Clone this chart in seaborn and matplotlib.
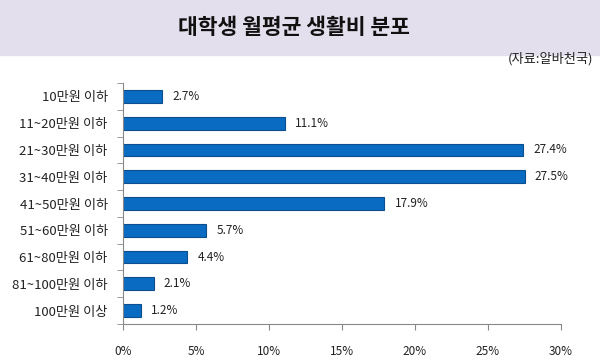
import pandas as pd
import matplotlib.pyplot as plt
import seaborn as sns
from matplotlib.patches import Rectangle

sns.set_style('white')
plt.rcParams['font.family'] = ['Noto Sans CJK KR', 'DejaVu Sans']

# data
categories = ['10만원 이하', '11~20만원 이하', '21~30만원 이하', '31~40만원 이하',
              '41~50만원 이하', '51~60만원 이하', '61~80만원 이하', '81~100만원 이하',
              '100만원 이상']
shares = [2.7, 11.1, 27.4, 27.5, 17.9, 5.7, 4.4, 2.1, 1.2]
xticks = [0, 5, 10, 15, 20, 25, 30]

df = pd.DataFrame({'구간': categories, '비율': shares})

fig = plt.figure(figsize=(6, 3.62), dpi=100)
# title band
fig.patches.append(Rectangle((0, 1 - 55 / 362), 1, 55 / 362, transform=fig.transFigure,
                             color='#E4DFEC', zorder=0))
fig.text(0.49, 1 - 28 / 362, '대학생 월평균 생활비 분포', ha='center', va='center',
         fontsize=15.5, fontweight='bold', color='#111111')
fig.text(0.988, 1 - 59 / 362, '(자료:알바천국)', ha='right', va='center',
         fontsize=9.5, color='#222222')

ax = fig.add_axes([123 / 600, 38 / 362, 438 / 600, 241 / 362])
sns.barplot(data=df, x='비율', y='구간', orient='h', color='#0A6BC2',
            edgecolor='#0B4F8E', linewidth=0.8, width=0.48, saturation=1, ax=ax)

for i, v in enumerate(shares):
    ax.text(v + 0.7, i, f'{v}%', va='center', ha='left', fontsize=8.5, color='#222222')

ax.set_xlim(0, 30)
ax.set_ylim(len(categories) - 0.5, -0.5)
ax.set_xticks(xticks)
ax.set_xticklabels([f'{t}%' for t in xticks], fontsize=8.5, color='#222222')
ax.set_yticks(range(len(categories)))
ax.set_yticklabels(categories, fontsize=9.5, color='#222222')
ax.set_yticks([i - 0.5 for i in range(len(categories) + 1)], minor=True)
ax.tick_params(axis='y', which='major', length=0, pad=11)
ax.tick_params(axis='y', which='minor', length=4, color='#888888', direction='out', left=True)
ax.tick_params(axis='x', length=4, color='#888888', direction='out', bottom=True, pad=11)
ax.set_xlabel('')
ax.set_ylabel('')
for s in ['top', 'right']:
    ax.spines[s].set_visible(False)
for s in ['left', 'bottom']:
    ax.spines[s].set_color('#888888')
    ax.spines[s].set_linewidth(0.8)

fig.savefig('out.png', dpi=100)
